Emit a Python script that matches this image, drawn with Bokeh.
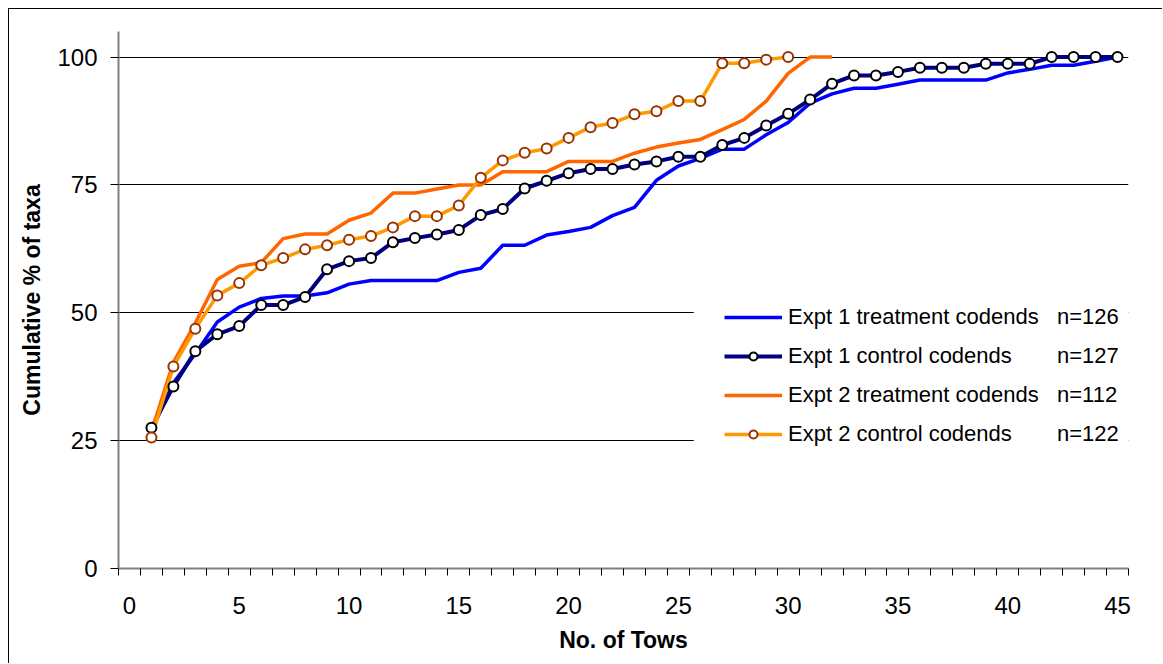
from bokeh.plotting import figure
from bokeh.models import (Range1d, FixedTicker, Legend, LegendItem,
                          ColumnDataSource, BoxAnnotation)
from bokeh.embed import file_html
from bokeh.resources import INLINE

# ---------------- data ----------------
tows_e1 = list(range(1, 46))
tows_e2_treat = list(range(1, 33))
tows_e2_ctrl = list(range(1, 31))

expt1_treatment = [27.0, 36.3, 42.0, 48.2, 51.1, 52.8, 53.3, 53.3, 53.9, 55.6,
                   56.3, 56.3, 56.3, 56.3, 57.9, 58.7, 63.2, 63.2, 65.2, 65.9,
                   66.7, 69.0, 70.6, 75.9, 78.7, 80.2, 82.0, 82.0, 84.8, 87.2,
                   91.0, 92.8, 93.9, 93.9, 94.7, 95.5, 95.5, 95.5, 95.5, 96.9,
                   97.6, 98.4, 98.4, 99.2, 100.0]
expt1_control = [27.5, 35.6, 42.5, 45.8, 47.4, 51.5, 51.5, 53.1, 58.5, 60.1,
                 60.7, 63.8, 64.6, 65.3, 66.2, 69.1, 70.3, 74.3, 75.8, 77.3,
                 78.1, 78.1, 79.0, 79.6, 80.5, 80.5, 82.8, 84.2, 86.6, 88.9,
                 91.7, 94.8, 96.4, 96.4, 97.1, 97.9, 97.9, 97.9, 98.7, 98.7,
                 98.7, 100.0, 100.0, 100.0, 100.0]
expt2_treatment = [26.8, 40.3, 48.0, 56.5, 59.1, 59.8, 64.5, 65.4, 65.4, 68.1,
                   69.5, 73.4, 73.4, 74.2, 75.0, 75.0, 77.6, 77.6, 77.6, 79.6,
                   79.6, 79.6, 81.2, 82.4, 83.2, 83.9, 85.8, 87.8, 91.4, 96.8,
                   100.0, 100.0]
expt2_control = [25.6, 39.5, 46.9, 53.4, 55.8, 59.3, 60.7, 62.4, 63.2, 64.3,
                 65.0, 66.7, 68.9, 68.9, 71.0, 76.4, 79.8, 81.3, 82.1, 84.2,
                 86.3, 87.1, 88.8, 89.4, 91.4, 91.4, 98.8, 98.8, 99.5, 100.0]

series_names = ["Expt 1 treatment codends", "Expt 1 control codends",
                "Expt 2 treatment codends", "Expt 2 control codends"]
series_n = ["n=126", "n=127", "n=112", "n=122"]

x_tick_labels = [0, 5, 10, 15, 20, 25, 30, 35, 40, 45]
y_tick_labels = [0, 25, 50, 75, 100]

FONT = "Liberation Sans"

p = figure(width=1154, height=655, output_backend="svg", toolbar_location=None,
           x_range=Range1d(-0.5, 45.5), y_range=Range1d(0, 105),
           min_border_left=109, min_border_right=35, min_border_top=22,
           min_border_bottom=96)
p.styles = {"margin-left": "8px", "margin-top": "8px",
            "border-left": "1px solid black", "border-top": "1px solid black"}
p.outline_line_color = None
p.background_fill_color = "white"
p.border_fill_color = "white"

# axes
p.xaxis.ticker = FixedTicker(ticks=x_tick_labels,
                             minor_ticks=[t - 0.5 for t in range(0, 47)])
p.yaxis.ticker = FixedTicker(ticks=y_tick_labels, minor_ticks=[])
for ax in (p.xaxis[0], p.yaxis[0]):
    ax.axis_line_color = "#808080"
    ax.axis_line_width = 2
    ax.major_label_text_font = FONT
    ax.major_label_text_font_size = "24px"
    ax.major_label_text_color = "black"
    ax.axis_label_text_font = FONT
    ax.axis_label_text_font_size = "23px"
    ax.axis_label_text_font_style = "bold"
    ax.axis_label_text_color = "black"

p.xaxis.axis_label = "No. of Tows"
p.xaxis.major_tick_line_color = None
p.xaxis.major_tick_out = 7
p.xaxis.major_tick_in = 0
p.xaxis.minor_tick_line_color = "black"
p.xaxis.minor_tick_out = 7
p.xaxis.minor_tick_in = 0
p.xaxis.major_label_standoff = 21
p.xaxis.axis_label_standoff = 10

p.yaxis.axis_label = "Cumulative % of taxa"
p.yaxis.major_tick_line_color = "black"
p.yaxis.major_tick_out = 8
p.yaxis.major_tick_in = 0
p.yaxis.minor_tick_line_color = None
p.yaxis.major_label_standoff = 13
p.yaxis.axis_label_standoff = 9

p.xgrid.grid_line_color = None
p.ygrid.grid_line_color = "black"
p.ygrid.grid_line_width = 1

# white backdrop of the legend (hides the gridlines behind it)
p.add_layout(BoxAnnotation(left=25.7, right=45.5, bottom=17, top=58,
                           fill_color="white", fill_alpha=1.0,
                           line_color=None, level="underlay"))

# series
s1 = ColumnDataSource(dict(x=tows_e1, y=expt1_treatment))
s2 = ColumnDataSource(dict(x=tows_e1, y=expt1_control))
s3 = ColumnDataSource(dict(x=tows_e2_treat, y=expt2_treatment))
s4 = ColumnDataSource(dict(x=tows_e2_ctrl, y=expt2_control))

r1 = p.line("x", "y", source=s1, line_color="#0000FF", line_width=3.5)
r2 = p.line("x", "y", source=s2, line_color="#000080", line_width=4)
r3 = p.line("x", "y", source=s3, line_color="#FF6600", line_width=3.5)
r4 = p.line("x", "y", source=s4, line_color="#FF9900", line_width=3.5)
m2 = p.scatter("x", "y", source=s2, size=10, fill_color="white",
               line_color="black", line_width=2)
m4 = p.scatter("x", "y", source=s4, size=10, fill_color="white",
               line_color="#993300", line_width=2)


def style_legend(lg, glyph_w):
    lg.padding = 0
    lg.margin = 0
    lg.spacing = 9
    lg.glyph_width = glyph_w
    lg.glyph_height = 20
    lg.label_height = 30
    lg.label_standoff = 6
    lg.label_text_font = FONT
    lg.label_text_font_size = "22px"
    lg.label_text_color = "black"
    lg.border_line_color = None
    lg.background_fill_color = "white"
    lg.background_fill_alpha = 1.0


legend = Legend(items=[
    LegendItem(label=series_names[0], renderers=[r1]),
    LegendItem(label=series_names[1], renderers=[r2, m2]),
    LegendItem(label=series_names[2], renderers=[r3]),
    LegendItem(label=series_names[3], renderers=[r4, m4]),
], location=(606, 119), orientation="vertical")
style_legend(legend, 58)
p.add_layout(legend)

# second column of the legend: sample sizes
dummies = [p.line(x=[], y=[], line_alpha=0) for _ in series_n]
legend_n = Legend(items=[LegendItem(label=lab, renderers=[d])
                         for lab, d in zip(series_n, dummies)],
                  location=(932, 119), orientation="vertical")
style_legend(legend_n, 1)
p.add_layout(legend_n)

open("out.html", "w").write(file_html(p, INLINE))
